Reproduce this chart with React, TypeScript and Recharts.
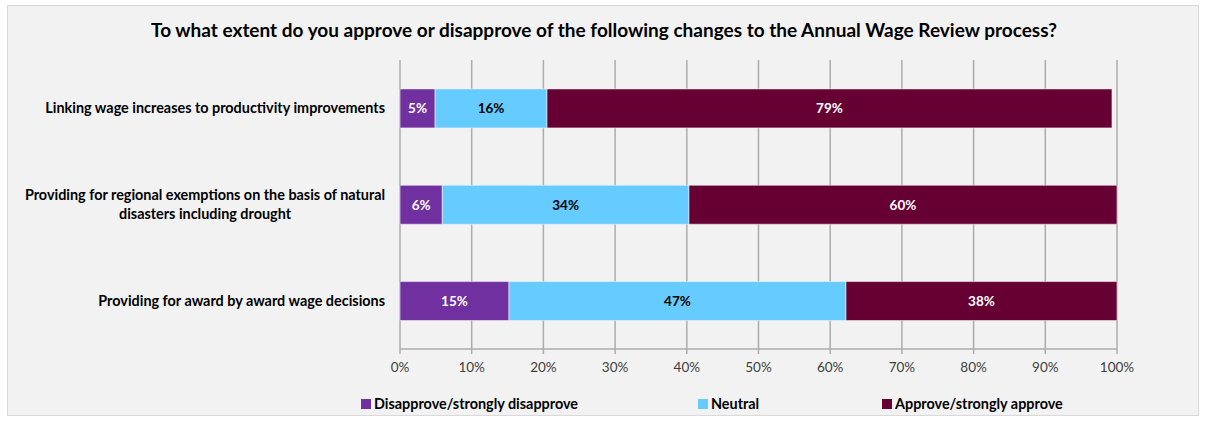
import React from "react";
import {
  BarChart,
  Bar,
  XAxis,
  YAxis,
  CartesianGrid,
  LabelList
} from "recharts";

const title =
  "To what extent do you approve or disapprove of the following changes to the Annual Wage Review process?";

const categories = [
  "Linking wage increases to productivity improvements",
  "Providing for regional exemptions on the basis of natural disasters including drought",
  "Providing for award by award wage decisions"
];

// how each category label wraps, as in the original
const categoryLines = [
  ["Linking wage increases to productivity improvements"],
  ["Providing for regional exemptions on the basis of natural", "disasters including drought"],
  ["Providing for award by award wage decisions"]
];

const disapprove = [4.9, 5.9, 15.2];
const neutral = [15.6, 34.4, 47.0];
const approve = [78.8, 59.7, 37.8];

const xTicks = [0, 10, 20, 30, 40, 50, 60, 70, 80, 90, 100];

const seriesNames = ["Disapprove/strongly disapprove", "Neutral", "Approve/strongly approve"];
const seriesKeys = ["disapprove", "neutral", "approve"];
const seriesColors = ["#7030a0", "#66ccff", "#660033"];
const labelColors = ["#ffffff", "#000000", "#ffffff"];

const data = categories.map((name, i) => ({
  name,
  lines: categoryLines[i],
  disapprove: disapprove[i],
  neutral: neutral[i],
  approve: approve[i]
}));

const FONT = "Lato, 'Open Sans', sans-serif";

function CategoryTick(props: any) {
  const { x, y, payload, index } = props;
  const lines: string[] = categoryLines[index] ?? [payload.value];
  const lh = 19;
  const top = y - ((lines.length - 1) * lh) / 2;
  if (lines.length === 1) {
    return (
      <text x={x} y={y} dy={5} textAnchor="end" fontFamily={FONT} fontSize={14.4} fontWeight={700} fill="#000">
        {lines[0]}
      </text>
    );
  }
  return (
    <text fontFamily={FONT} fontSize={14.4} fontWeight={700} fill="#000" textAnchor="middle">
      {lines.map((l, i) => (
        <tspan key={i} x={x - 180} y={top + i * lh} dy={5}>
          {l}
        </tspan>
      ))}
    </text>
  );
}

export default function App() {
  return (
    <div
      style={{
        position: "absolute",
        left: 7,
        top: 5,
        width: 1192,
        height: 411,
        background: "#f2f2f2",
        border: "1px solid #d9d9d9",
        boxSizing: "border-box",
        fontFamily: FONT
      }}
    >
      <div
        style={{
          position: "absolute",
          top: 12,
          left: 0,
          width: 1192,
          textAlign: "center",
          fontSize: 19,
          fontWeight: 700,
          color: "#000"
        }}
      >
        {title}
      </div>
      <div style={{ position: "absolute", left: -1, top: -1 }}>
        <BarChart
          width={1191}
          height={411}
          data={data}
          layout="vertical"
          barCategoryGap="30%"
          margin={{ top: 55, right: 81, bottom: 37, left: 0 }}
        >
          <CartesianGrid horizontal={false} stroke="#acacac" strokeWidth={1.5} />
          <XAxis
            type="number"
            domain={[0, 100]}
            ticks={xTicks}
            interval={0}
            height={30}
            tickFormatter={(v) => `${v}%`}
            tick={{ fontSize: 13.5, fill: "#404040", fontFamily: FONT }}
            axisLine={{ stroke: "#acacac", strokeWidth: 1.5 }}
            tickLine={{ stroke: "#acacac", strokeWidth: 1.5 }}
            tickSize={5}
            tickMargin={8}
          />
          <YAxis
            yAxisId="frame"
            type="number"
            domain={[0, 3]}
            ticks={[0, 1, 2, 3]}
            width={0}
            tick={{ fontSize: 0 }}
            tickSize={5}
            axisLine={{ stroke: "#acacac", strokeWidth: 1.5 }}
            tickLine={{ stroke: "#acacac", strokeWidth: 1.5 }}
          />
          <YAxis
            yAxisId="cat"
            type="category"
            dataKey="name"
            width={393}
            tick={<CategoryTick />}
            tickLine={false}
            axisLine={false}
            tickSize={0}
            tickMargin={15}
            interval={0}
          />
          {seriesKeys.map((k, i) => (
            <Bar
              key={k}
              yAxisId="cat"
              dataKey={k}
              name={seriesNames[i]}
              stackId="a"
              fill={seriesColors[i]}
              stroke="#f2f2f2"
              strokeWidth={0.6}
              isAnimationActive={false}
            >
              <LabelList
                dataKey={k}
                position="center"
                formatter={(v: any) => `${Math.round(Number(v))}%`}
                fill={labelColors[i]}
                style={{ fontSize: 13.5, fontWeight: 700, fontFamily: FONT }}
              />
            </Bar>
          ))}
        </BarChart>
      </div>
      {seriesNames.map((n, i) => (
        <div
          key={n}
          style={{
            position: "absolute",
            top: 389,
            left: [353, 690, 874][i],
            display: "flex",
            alignItems: "center",
            fontSize: 14.4,
            fontWeight: 700,
            color: "#000",
            whiteSpace: "nowrap"
          }}
        >
          <span
            style={{
              display: "inline-block",
              width: 10,
              height: 10,
              background: seriesColors[i],
              marginRight: 3
            }}
          />
          {n}
        </div>
      ))}
    </div>
  );
}
